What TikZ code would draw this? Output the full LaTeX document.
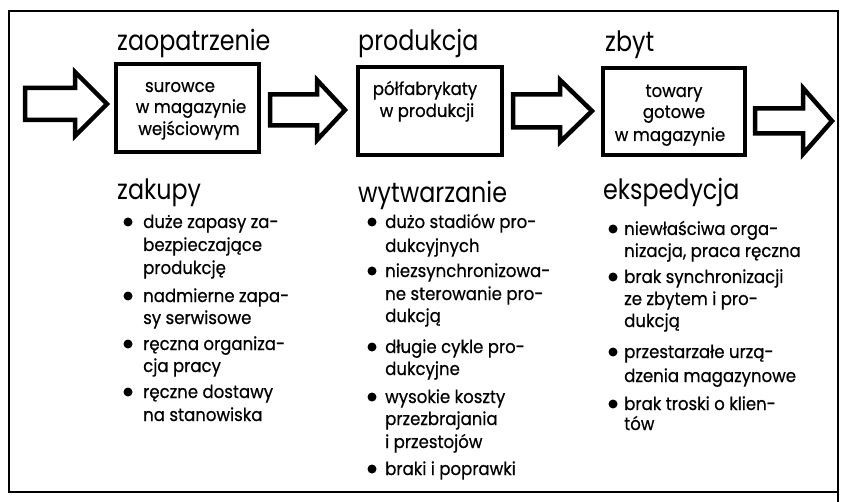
\documentclass[tikz,border=0pt]{standalone}
\usepackage{fontspec}
\setmainfont{Poppins}
\newfontfamily\headfont[FakeStretch=0.85]{Poppins}
\newfontfamily\bodyfont[FakeStretch=0.92,FakeBold=0.6]{Poppins}
\begin{document}
\begin{tikzpicture}[x=1pt,y=-1pt,
  frame/.style={line width=2pt},
  stock/.style={draw,line width=3.5pt,rectangle,inner sep=0pt},
  flowarrow/.style={line width=4.5pt,line join=miter},
  head/.style={anchor=base west,inner sep=0pt,font=\headfont\fontsize{28}{30}\selectfont},
  boxtxt/.style={anchor=base,inner sep=0pt,font=\bodyfont\fontsize{18}{20}\selectfont},
  txt/.style={anchor=base west,inner sep=0pt,font=\bodyfont\fontsize{18}{20}\selectfont},
  dot/.style={circle,fill,inner sep=0pt,minimum size=9pt}]
\useasboundingbox (0,0) rectangle (850,502);
\fill[white] (0,0) rectangle (850,502);

% outer frame
\coordinate (fa) at (9,11);
\coordinate (fb) at (838,492);
\draw[frame] (fa) rectangle (fb);
\coordinate (fc) at (838,502);
\draw[frame] (fb) -- (fc);

% stock boxes
\node[stock,minimum width=143pt,minimum height=88pt] (box1) at (187.5,108) {};
\node[stock,minimum width=144pt,minimum height=88pt] (box2) at (430,111) {};
\node[stock,minimum width=142pt,minimum height=87pt] (box3) at (674,111.5) {};

% block arrows: left x, tip x, centre y, body half height, head half height, head length
\foreach \l/\r/\c/\b/\h/\k in {25/107/104/16/32/32, 270/345/110/15.5/30/28, 513/592/111/16.5/31/32, 755/832/121/12.5/33/29}{
  \draw[flowarrow] (\l,\c-\b) -- (\r-\k,\c-\b) -- (\r-\k,\c-\h) -- (\r,\c)
    -- (\r-\k,\c+\h) -- (\r-\k,\c+\b) -- (\l,\c+\b) -- cycle;
}

% stage titles
\node[head] (t1) at (117,51) {zaopatrzenie};
\node[head] (t2) at (358,51) {produkcja};
\node[head] (t3) at (605,52) {zbyt};
\node[head] (s1) at (117,200) {zakupy};
\node[head] (s2) at (358,203) {wytwarzanie};
\node[head] (s3) at (603,200) {ekspedycja};

% box contents
\node[boxtxt] (b1a) at (180,92) {surowce};
\node[boxtxt] (b1b) at (191,113) {w magazynie};
\node[boxtxt] (b1c) at (189,135) {wejściowym};
\node[boxtxt] (b2a) at (425,95) {półfabrykaty};
\node[boxtxt] (b2b) at (427,117) {w produkcji};
\node[boxtxt] (b3a) at (674,97) {towary};
\node[boxtxt] (b3b) at (674,118) {gotowe};
\node[boxtxt] (b3c) at (670,141) {w magazynie};

% bullets
\foreach \y [count=\i] in {222,296,344,392}
  \node[dot] (d1\i) at (128,\y) {};
\foreach \y [count=\i] in {222,271,347,397,469}
  \node[dot] (d2\i) at (372,\y) {};
\foreach \y [count=\i] in {229,277,352,404}
  \node[dot] (d3\i) at (613,\y) {};

% purchasing column
\foreach \t/\y [count=\i] in {{duże zapasy za-}/228,{bezpieczające}/251,{produkcję}/274,
  {nadmierne zapa-}/302,{sy serwisowe}/324,{ręczna organiza-}/350,{cja pracy}/372,
  {ręczne dostawy}/398,{na stanowiska}/421}
  \node[txt] (l1\i) at (143,\y) {\t};

% production column
\foreach \t/\y [count=\i] in {{dużo stadiów pro-}/228,{dukcyjnych}/252,{niezsynchronizowa-}/277,
  {ne sterowanie pro-}/300,{dukcją}/322,{długie cykle pro-}/353,{dukcyjne}/375,
  {wysokie koszty}/403,{przezbrajania}/425,{i przestojów}/448,{braki i poprawki}/475}
  \node[txt] (l2\i) at (385,\y) {\t};

% dispatch column
\foreach \t/\y [count=\i] in {{niewłaściwa orga-}/235,{nizacja, praca ręczna}/257,
  {brak synchronizacji}/283,{ze zbytem i pro-}/305,{dukcją}/327,
  {przestarzałe urzą-}/358,{dzenia magazynowe}/382,{brak troski o klien-}/410,{tów}/430}
  \node[txt] (l3\i) at (624,\y) {\t};
\end{tikzpicture}
\end{document}
